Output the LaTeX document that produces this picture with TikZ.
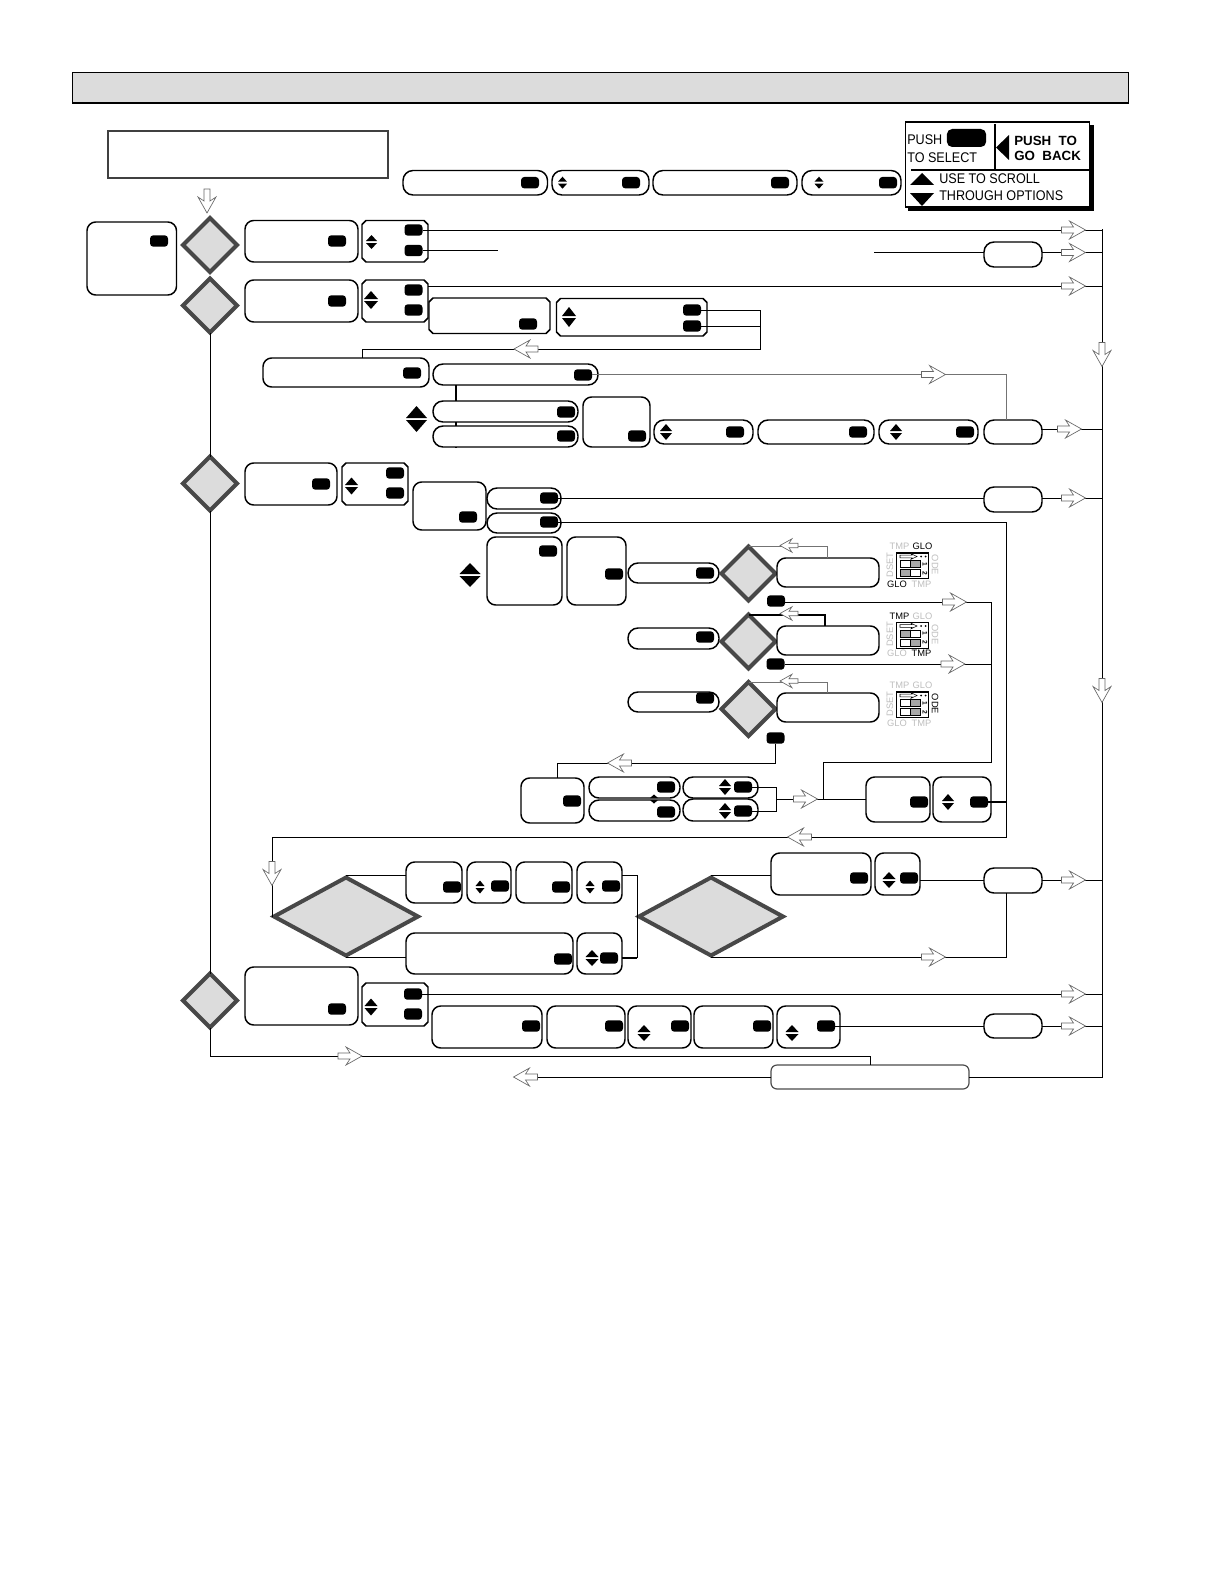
\documentclass[tikz,border=0pt]{standalone}
\usepackage{fontspec}
\setmainfont{Liberation Sans}
\newfontfamily\legfont[FakeStretch=0.9]{Liberation Sans}
\usetikzlibrary{shapes.misc,shapes.geometric,calc}
\definecolor{barfill}{HTML}{DCDCDC}
\definecolor{dmstroke}{HTML}{484848}
\definecolor{cellgrey}{HTML}{A8A8A8}
\definecolor{txtgrey}{HTML}{BEBEBE}
\tikzset{
  rbox/.style={draw=black,line width=1.1pt,fill=white,rounded corners=6.5pt,inner sep=0pt,outer sep=0pt},
  pillbox/.style={draw=black,line width=1.1pt,fill=white,rounded corners=7.5pt,inner sep=0pt,outer sep=0pt},
  chamshape/.style={draw=black,line width=1.1pt,fill=white},
  anchorbox/.style={inner sep=0pt,outer sep=0pt},
  btn/.style={fill=black,rounded corners=2.5pt,minimum width=13.5pt,minimum height=8.6pt,inner sep=0pt,outer sep=0pt},
  dm/.style={diamond,draw=dmstroke,fill=barfill,line width=3pt,inner sep=0pt,outer sep=0pt,minimum width=40.5pt,minimum height=40.5pt},
  bigdm/.style={diamond,draw=dmstroke,fill=barfill,line width=3pt,inner sep=0pt,outer sep=0pt,minimum width=108pt,minimum height=58.5pt},
  conn/.style={draw=black,line width=0.65pt},
  connthick/.style={draw=black,line width=1.5pt},
  conngrey/.style={draw=black!55,line width=0.7pt},
  harrow/.style={draw=black!60,fill=white,line width=0.5pt},
  dtxt/.style={font=\fontsize{7}{8}\selectfont,inner sep=0pt,outer sep=0pt},
  legtxt/.style={font=\legfont\fontsize{10.5}{12}\selectfont,inner sep=0pt,anchor=west},
  legbold/.style={font=\fontsize{10}{12}\selectfont\bfseries,inner sep=0pt,anchor=west},
}
% box from corners: [style]{name}{x1}{y1}{x2}{y2}
\newcommand{\bx}[6][rbox]{%
  \pgfmathsetmacro\bxw{(#5-#3)*0.75}\pgfmathsetmacro\bxh{(#6-#4)*0.75}%
  \pgfmathsetmacro\bxx{(#3+#5)/2}\pgfmathsetmacro\bxy{(#4+#6)/2}%
  \node[#1,minimum width=\bxw pt,minimum height=\bxh pt] (#2) at (\bxx,\bxy) {};}
% chamfered box
\newcommand{\cbx}[5]{%
  \draw[chamshape] (#2+4,#3) -- (#4-4,#3) -- (#4,#3+4) -- (#4,#5-4) -- (#4-4,#5) -- (#2+4,#5) -- (#2,#5-4) -- (#2,#3+4) -- cycle;
  \bx[anchorbox]{#1}{#2}{#3}{#4}{#5}}
\newcommand{\bt}[3]{\node[btn] (#1) at (#2,#3) {};}
% scroll arrows {cx}{cy}{half width}{height}
\newcommand{\scrl}[4]{%
  \fill[black,shift={(#1,#2)}] (-#3,-1) -- (#3,-1) -- (0,-1-#4) -- cycle;
  \fill[black,shift={(#1,#2)}] (-#3,1) -- (#3,1) -- (0,1+#4) -- cycle;}
% hollow arrow {cx}{cy}{angle}
\newcommand{\harr}[3]{%
  \draw[harrow,shift={(#1,#2)},rotate=#3] (-12,-3) -- (0,-3) -- (-4,-9) -- (12,0) -- (-4,9) -- (0,3) -- (-12,3) -- cycle;}
\newcommand{\sharr}[2]{%
  \draw[harrow,shift={(#1,#2)},rotate=180,scale=0.75] (-12,-3) -- (0,-3) -- (-4,-9) -- (12,0) -- (-4,9) -- (0,3) -- (-12,3) -- cycle;}
% DIP switch labels {rect top y}{TMP top}{GLO top}{GLO bottom}{TMP bottom}{ODE}
\newcommand{\dipframe}[6]{%
  \node[draw=black,line width=0.8pt,minimum width=24.5pt,minimum height=19.2pt,inner sep=0pt] (dip#1) at (912.5,#1+12.8) {};
  \node[dtxt,text=#2] (dipa#1) at (899.5,#1-6.5) {TMP};
  \node[dtxt,text=#3] (dipb#1) at (922.5,#1-6.5) {GLO};
  \node[dtxt,text=#4] (dipc#1) at (897,#1+31) {GLO};
  \node[dtxt,text=#5] (dipd#1) at (921.5,#1+31) {TMP};
  \node[dtxt,text=txtgrey,rotate=90] (dipe#1) at (890,#1+12) {DSET};
  \node[dtxt,text=#6,rotate=-90] (dipf#1) at (935,#1+12) {ODE};
  \draw[draw=black,fill=white,line width=0.4pt,shift={(908,#1+3.5)}] (-8,-1.3) -- (4,-1.3) -- (3,-2.8) -- (9,0) -- (3,2.8) -- (4,1.3) -- (-8,1.3) -- cycle;
  \fill[black] (921,#1+3.5) circle (1) (925.5,#1+3.5) circle (1);
  \node[dtxt,font=\fontsize{5}{5}\selectfont\bfseries,rotate=-90] (dipg#1) at (925,#1+11) {1};
  \node[dtxt,font=\fontsize{5}{5}\selectfont\bfseries,rotate=-90] (diph#1) at (925,#1+20) {2};}
\newcommand{\dipcells}[5]{%
  \draw[black,line width=0.7pt,fill=#2] (900.5,#1+7.7) rectangle (910.5,#1+14.5);
  \draw[black,line width=0.7pt,fill=#3] (910.5,#1+7.7) rectangle (920.5,#1+14.5);
  \draw[black,line width=0.7pt,fill=#4] (900.5,#1+16.7) rectangle (910.5,#1+23.5);
  \draw[black,line width=0.7pt,fill=#5] (910.5,#1+16.7) rectangle (920.5,#1+23.5);}
\begin{document}
\begin{tikzpicture}[x=0.75pt,y=-0.75pt]
\useasboundingbox (0,0) rectangle (1224,1584);

% header bar
\fill[barfill] (72.5,72.5) rectangle (1128,102.5);
\draw[black,line width=0.7pt] (72.5,102.5) -- (72.5,72.5) -- (1128,72.5) -- (1128,102.5);
\draw[black,line width=1.5pt] (72,102.7) -- (1128.5,102.7);

% top text box
\bx[draw=black!75,line width=1.1pt,inner sep=0pt]{topbox}{108}{131}{388}{178}

% top row
\bx[pillbox]{t1}{403}{170.5}{547.5}{195} \bt{t1b}{530}{182.7}
\bx[pillbox]{t2}{552}{170.5}{649}{195} \bt{t2b}{631}{182.7} \scrl{562.5}{182.7}{4.5}{5}
\bx[pillbox]{t3}{653}{170.5}{797}{195} \bt{t3b}{780}{182.7}
\bx[pillbox]{t4}{802}{170.5}{901}{195} \bt{t4b}{888}{182.7} \scrl{819}{182.7}{4.5}{5}

% legend
\fill[black] (908,125) rectangle (1094,211);
\node[draw=black,fill=white,line width=1.3pt,minimum width=138pt,minimum height=63.5pt,inner sep=0pt] (leg) at (997.5,164.5) {};
\draw[black,line width=0.9pt] (911,170) -- (1089,170);
\draw[black,line width=0.9pt] (995,124) -- (995,170);
\node[fill=black,rounded corners=4pt,minimum width=29.5pt,minimum height=13.5pt,inner sep=0pt] (legbtn) at (966.5,138) {};
\fill[black] (996,147.5) -- (1009,135) -- (1009,160) -- cycle;
\fill[black] (910,185) -- (934,185) -- (922,173) -- cycle;
\fill[black] (910,193) -- (934,193) -- (922,206) -- cycle;
\node[legtxt] (legt1) at (907,140) {PUSH};
\node[legtxt] (legt2) at (907,158) {TO SELECT};
\node[legbold] (legt3) at (1014,141) {PUSH\ \ TO};
\node[legbold] (legt4) at (1014,156) {GO\ \ BACK};
\node[legtxt] (legt5) at (939,179) {USE TO SCROLL};
\node[legtxt] (legt6) at (939,196) {THROUGH OPTIONS};

% left box and main diamonds
\bx{L}{87}{222}{176.5}{295} \bt{Lb}{159}{241}
\node[dm] (d1) at (210,245) {};
\node[dm] (d2) at (210,305.5) {};
\node[dm] (d3) at (210,483.5) {};
\node[dm] (d4) at (210,1000.5) {};

% row 1
\bx{a1}{245}{220.5}{358}{262} \bt{a1b}{337}{241}
\cbx{a2}{362}{220.5}{428}{262} \bt{a2a}{413.5}{230} \bt{a2c}{413.5}{250.5} \scrl{371.5}{242}{5.5}{6}
\bx[pillbox]{p1}{984}{242}{1042}{267}
% row 2
\bx{b1}{245}{280}{358}{322} \bt{b1b}{337}{301}
\cbx{b2}{362}{280}{428}{322} \bt{b2a}{413.5}{290} \bt{b2c}{413.5}{310} \scrl{371}{300}{7}{8}
\cbx{b3}{429}{298}{550}{333.5} \bt{b3b}{528}{324}
\cbx{b4}{556.5}{298.5}{707}{336} \bt{b4a}{692}{310} \bt{b4c}{692}{326} \scrl{569}{317}{7}{9}
\bx{c0}{263}{358}{429}{387} \bt{c0b}{412}{373}
\bx[pillbox]{c1}{433}{364}{598}{385} \bt{c1b}{583}{375}
\bx[pillbox]{c2}{433}{401}{578}{422} \bt{c2b}{566}{412}
\bx[pillbox]{c3}{433}{426}{578}{447} \bt{c3b}{566}{436}
\scrl{416.5}{419}{10.5}{12}
\bx{c4}{583}{397}{650}{447} \bt{c4b}{637}{436}
\bx[pillbox]{c5}{654}{420}{753}{444} \bt{c5b}{735}{432} \scrl{666}{432}{6}{7}
\bx[pillbox]{c6}{758}{420}{874}{444} \bt{c6b}{858}{432}
\bx[pillbox]{c7}{879}{420}{978}{444} \bt{c7b}{965}{432} \scrl{896}{432}{6}{7}
\bx[pillbox]{p2}{984}{420}{1042}{444}
% row 3
\bx{e1}{245}{463}{337}{505} \bt{e1b}{321}{484}
\cbx{e2}{342}{463}{408}{505} \bt{e2a}{395}{473} \bt{e2c}{395}{493} \scrl{351.5}{486}{6.5}{7.5}
\bx{e3}{413}{482}{486}{530} \bt{e3b}{468}{517}
\bx[pillbox]{e4}{487}{488}{561}{509} \bt{e4b}{549}{498}
\bx[pillbox]{e5}{487}{513}{561}{533} \bt{e5b}{549}{522}
\bx[pillbox]{p3}{984}{487}{1042}{512}
\bx{f1}{487}{537}{562}{605} \bt{f1b}{548}{551} \scrl{470}{575}{10.5}{11}
\bx{f2}{567}{537}{626}{605} \bt{f2b}{614}{574}
\bx[pillbox]{g1}{628}{563}{719}{583} \bt{g1b}{705}{573}
\bx[pillbox]{g2}{628}{628}{719}{649} \bt{g2b}{705}{637}
\bx[pillbox]{g3}{628}{692}{719}{712} \bt{g3b}{705}{698}
\node[dm] (h1) at (748.5,573.5) {};
\node[dm] (h2) at (748.5,641.5) {};
\node[dm] (h3) at (748.5,709) {};
\bx{i1}{777}{558}{879}{587}
\bx{i2}{777}{626}{879}{655}
\bx{i3}{777}{693}{879}{722}
\bt{h1b}{776}{601} \bt{h2b}{775.5}{664} \bt{h3b}{775.5}{738}
% selections under
\bx{k1}{521}{778}{584}{823} \bt{k1b}{572}{801}
\bx[pillbox]{k2}{589}{777}{680}{798} \bt{k2b}{666}{787}
\bx[pillbox]{k3}{589}{800}{680}{821} \bt{k3b}{666}{812}
\scrl{654}{799}{4}{3.5}
\bx[pillbox]{k4}{683}{777}{758}{798} \bt{k4b}{743}{787} \scrl{725}{787}{6}{7}
\bx[pillbox]{k5}{683}{799}{758}{821} \bt{k5b}{743}{811} \scrl{725}{811}{6}{7}
\bx{m1}{866}{777}{930}{822} \bt{m1b}{919}{802}
\bx{m2}{933}{777}{991}{822} \bt{m2b}{979}{802} \scrl{948}{802}{6}{7}
% big diamonds block
\node[bigdm] (bd1) at (346,916.5) {};
\node[bigdm] (bd2) at (711,916.5) {};
\bx{n1}{406}{862}{462}{903} \bt{n1b}{452}{887}
\bx{n2}{467}{862}{511}{903} \bt{n2b}{500}{886} \scrl{480}{887}{4.5}{5.5}
\bx{n3}{516}{862}{572}{903} \bt{n3b}{561}{887}
\bx{n4}{577}{862}{622}{903} \bt{n4b}{611}{886} \scrl{590}{887}{4.5}{5.5}
\bx{o1}{406}{933}{573}{974} \bt{o1b}{563}{959}
\bx{o2}{577}{933}{622}{974} \bt{o2b}{609}{958} \scrl{592}{958}{6.5}{7}
\bx{q1}{771}{853}{871}{895} \bt{q1b}{859}{878}
\bx{q2}{875}{853}{920}{895} \bt{q2b}{909}{878} \scrl{889}{880}{6.5}{7}
\bx[pillbox]{p4}{984}{868}{1042}{893}
% bottom section
\bx{s1}{245}{967}{358}{1025} \bt{s1b}{337}{1009}
\cbx{s2}{362}{983}{428}{1026} \bt{s2a}{413}{994} \bt{s2c}{413}{1014} \scrl{371}{1007}{6.5}{7.5}
\bx{u1}{432}{1006}{542}{1048} \bt{u1b}{531}{1026}
\bx{u2}{547}{1006}{625}{1048} \bt{u2b}{614}{1026}
\bx{u3}{628}{1006}{691}{1048} \bt{u3b}{680}{1026} \scrl{644}{1033}{6.5}{7}
\bx{u4}{694}{1006}{773}{1048} \bt{u4b}{762}{1026}
\bx{u5}{777}{1006}{840}{1048} \bt{u5b}{826}{1026} \scrl{792}{1033}{6.5}{7}
\bx[pillbox]{p5}{984}{1014}{1042}{1038}
\bx[rbox,draw=black!70,line width=0.9pt,rounded corners=4.5pt]{last}{771}{1065}{969}{1089}

% named free ends and corners
\coordinate (railtop) at (1102,229);
\coordinate (railbot) at (1102,1077);
\coordinate (gapA) at (498,250.5);
\coordinate (gapB) at (874,252.5);
\coordinate (row2y) at (0,286);
\coordinate (backb) at (760,310);
\coordinate (backc) at (760,349);
\coordinate (backd) at (362,349);
\coordinate (ret) at (1006,374.5);
\coordinate (p2y) at (0,429);
\coordinate (turn) at (1006,837);
\coordinate (bus) at (991,602);
\coordinate (bus2) at (991,762);
\coordinate (busj) at (823,762);
\coordinate (merge) at (776,799);
\coordinate (loop) at (272,837);
\coordinate (tipy) at (0,916.5);
\coordinate (topy) at (0,875);
\coordinate (boty) at (0,957);
\coordinate (lowbus) at (637,875);
\coordinate (lowend) at (637,958);
\coordinate (retb) at (1006.5,957);
\coordinate (q2y) at (0,880);
\coordinate (h3turn) at (775.5,763);
\coordinate (k1turn) at (557,763);
\coordinate (stub) at (870,1056);
\coordinate (lastend) at (538,1077);
\coordinate (v0) at (456,448);

% connectors
\draw[conn] (railtop) -- (railbot) -- (last.east);
\draw[conn] (last.west) -- (lastend);
\draw[conn] (a2a.east) -- (railtop |- a2a);
\draw[conn] (a2c.east) -- (gapA);
\draw[conn] (gapB) -- (p1.west |- gapB);
\draw[conn] (p1.east |- gapB) -- (railtop |- gapB);
\draw[conn] (b2.east |- row2y) -- (railtop |- row2y);
\draw[conn] (b4a.east) -- (backb) -- (backc) -- (backd) -- (c0.north -| backd);
\draw[conn] (b4c.east) -- (backb |- b4c);
\draw[conn] (d2.south) -- (d3.north);
\draw[conn] (d3.south) -- (d4.north);
\draw[conn] (d4.south) -- (d4.south |- stub) -- (stub) -- (last.north -| stub);
\draw[conngrey] (c1b.east |- ret) -- (ret) -- (p2.north -| ret);
\draw[conn,line width=0.9pt] (c1.south -| v0) -- (c2.north -| v0);
\draw[conn,line width=0.9pt] (c2.south -| v0) -- (c3.north -| v0);
\draw[conn,line width=0.9pt] (c3.south -| v0) -- (v0);
\draw[conn] (p2.east |- p2y) -- (railtop |- p2y);
\draw[conn] (e4b.east) -- (p3.west |- e4b);
\draw[conn] (p3.east |- e4b) -- (railtop |- e4b);
\draw[conn] (e5b.east) -- (turn |- e5b) -- (turn) -- (loop) -- (loop |- tipy);
\draw[conngrey] (h1.north) -| (i1.north -| 827,0);
\draw[conn,line width=1.5pt] (h2.north) -| (i2.north -| 825,0);
\draw[conngrey] (h3.north) -| (i3.north -| 827,0);
\draw[conn] (h1b.east |- bus) -- (bus) -- (bus2) -- (busj) -- (busj |- merge);
\draw[conn] (h2b.east) -- (bus |- h2b);
\draw[conn] (h3b.south) -- (h3turn) -- (k1turn) -- (k1.north -| k1turn);
\draw[conn] (k4b.east) -| (merge) |- (k5b.east);
\draw[conn] (merge) -- (m1.west |- merge);
\draw[connthick] (m2b.east) -- (turn |- m2b);
\draw[conn] (bd1.north |- topy) -- (n1.west |- topy);
\draw[conn] (bd1.south |- boty) -- (o1.west |- boty);
\draw[conn] (n4.east |- lowbus) -- (lowbus) -- (lowend);
\draw[conn,line width=1.1pt] (o2.east |- lowend) -- (lowend);
\draw[conn] (bd2.north |- topy) -- (q1.west |- topy);
\draw[conn] (q2.east |- q2y) -- (p4.west |- q2y);
\draw[conn] (p4.east |- q2y) -- (railtop |- q2y);
\draw[conn] (bd2.south |- boty) -- (retb) -- (p4.south -| retb);
\draw[conn] (s2a.east) -- (railtop |- s2a);
\draw[conn] (u5b.east) -- (p5.west);
\draw[conn] (p5.east) -- (railtop |- p5);

% hollow arrows
\harr{207}{201}{-90}
\harr{1073.5}{230}{0}
\harr{1073.5}{252.5}{0}
\harr{1073.5}{286}{0}
\harr{526}{349}{180}
\harr{933.5}{374.5}{0}
\harr{1102}{354.5}{-90}
\harr{1102}{690.5}{-90}
\harr{1069.5}{429}{0}
\harr{1073.5}{498}{0}
\sharr{789}{545.5}
\sharr{789}{613.5}
\sharr{789}{681}
\harr{954.5}{602}{0}
\harr{953}{664}{0}
\harr{805.5}{799}{0}
\harr{619.5}{763}{180}
\harr{799.5}{837}{180}
\harr{272}{873.5}{-90}
\harr{933.5}{957}{0}
\harr{1073.5}{880}{0}
\harr{1073.5}{994}{0}
\harr{1073.5}{1026}{0}
\harr{350}{1056}{0}
\harr{525.5}{1077}{180}

% DIP switches
\dipframe{553}{txtgrey}{black}{black}{txtgrey}{txtgrey}
\dipcells{553}{white}{cellgrey}{cellgrey}{white}
\dipframe{622.5}{black}{txtgrey}{txtgrey}{black}{txtgrey}
\dipcells{622.5}{cellgrey}{white}{white}{cellgrey}
\dipframe{692}{txtgrey}{txtgrey}{txtgrey}{txtgrey}{black}
\dipcells{692}{white}{cellgrey}{white}{cellgrey}
\end{tikzpicture}
\end{document}
